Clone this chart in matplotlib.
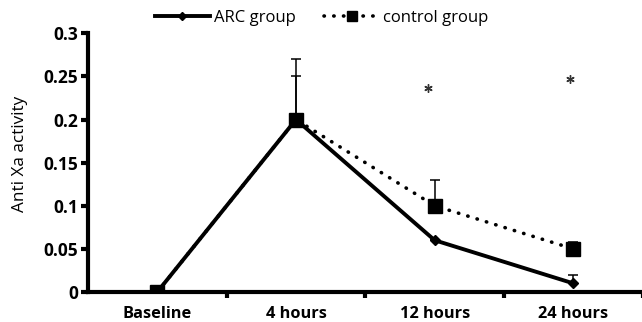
import matplotlib
matplotlib.use("Agg")
import matplotlib.pyplot as plt
from matplotlib.lines import Line2D
import numpy as np

plt.rcParams['font.family'] = ['Open Sans', 'DejaVu Sans']

timepoints = ["Baseline", "4 hours", "12 hours", "24 hours"]
arc_mean = [0.0, 0.20, 0.06, 0.01]
arc_err_up = [0.0, 0.05, 0.0, 0.01]
ctrl_mean = [0.0, 0.20, 0.10, 0.05]
ctrl_err_up = [0.0, 0.07, 0.03, 0.008]
# significance markers: (x position, height)
sig_x = [1.954, 2.978]
sig_y = [0.237, 0.247]

fig = plt.figure(figsize=(6.42, 3.22), dpi=100)
ax = fig.add_axes([0.137, 0.0932, 0.864, 0.8034])

x = np.arange(len(timepoints))
dots = (0, (0.1, 2.6))

ax.errorbar(x, ctrl_mean, yerr=[np.zeros(len(x)), ctrl_err_up], fmt='none',
            ecolor='black', elinewidth=1.1, capsize=3.5, capthick=1.1, zorder=2)
ax.errorbar(x, arc_mean, yerr=[np.zeros(len(x)), arc_err_up], fmt='none',
            ecolor='black', elinewidth=1.1, capsize=3.5, capthick=1.1, zorder=2)

ax.plot(x, ctrl_mean, linestyle=dots, dash_capstyle='round',
        color='black', lw=2.6, marker='s', markersize=9.5, zorder=3)
ax.plot(x, arc_mean, linestyle='-', color='black', lw=2.8, marker='D',
        markersize=5.5, zorder=4)

ax.plot(sig_x, sig_y, linestyle='none', marker=(6, 2, 0), markersize=6,
        markeredgewidth=1.0, color='#333333', zorder=5)

ax.set_xlim(-0.5, 3.5)
ax.set_ylim(0, 0.3)
ax.set_yticks([0, 0.05, 0.1, 0.15, 0.2, 0.25, 0.3])
ax.set_yticklabels(['0', '0.05', '0.1', '0.15', '0.2', '0.25', '0.3'],
                   fontsize=12.5, fontweight='bold')
ax.set_xticks(x)
ax.set_xticklabels(timepoints, fontsize=11.8, fontweight='bold')
ax.set_xticks(np.arange(0.5, 4.0, 1.0), minor=True)
ax.tick_params(axis='x', which='major', length=0, pad=10)
ax.tick_params(axis='x', which='minor', length=4, width=3, direction='out')
ax.tick_params(axis='y', length=5, width=3, direction='out', pad=2)

for side in ['top', 'right']:
    ax.spines[side].set_visible(False)
for side in ['left', 'bottom']:
    ax.spines[side].set_linewidth(3)

ax.set_ylabel('Anti Xa activity', fontsize=12.3)
ax.yaxis.set_label_coords(-0.108, 0.533)

legend_handles = [
    Line2D([], [], color='black', lw=2.8, marker='D', markersize=4),
    Line2D([], [], color='black', lw=2.6, linestyle=dots, dash_capstyle='round',
           marker='s', markersize=7.5),
]
fig.legend(legend_handles, ['ARC group', 'control group'], loc='center left',
           bbox_to_anchor=(0.2414, 0.944), ncol=2, frameon=False, fontsize=12,
           borderpad=0, borderaxespad=0, handlelength=3.3,
           columnspacing=1.7, handletextpad=0.25)

fig.savefig('out.png', dpi=100)
